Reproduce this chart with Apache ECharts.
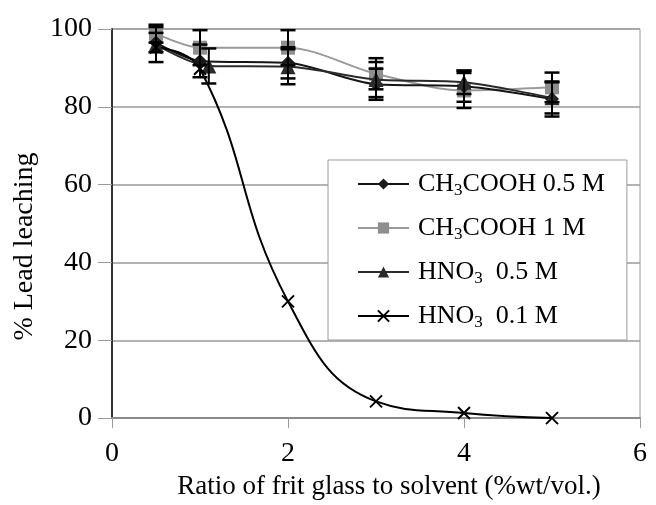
<!DOCTYPE html>
<html>
<head>
<meta charset="utf-8">
<script src="https://cdn.jsdelivr.net/npm/echarts@6/dist/echarts.min.js"></script>
<style>html,body{margin:0;padding:0;background:#fff;}#c{width:656px;height:505px;}</style>
</head>
<body>
<div id="c"></div>
<script>
// ---- data ----
const xValues = [0.5, 1, 2, 3, 4, 5];
const xValuesTriangle = [0.5, 1.1, 2, 3, 4, 5];
const ch3cooh05 = [96.5, 91.8, 91.3, 85.8, 85.3, 82.0];
const ch3cooh1 = [98.8, 95.2, 95.2, 88.5, 84.2, 85.0];
const hno305 = [96.0, 90.5, 90.3, 87.0, 86.3, 82.3];
const hno301 = [95.3, 89.8, 30.0, 4.3, 1.3, 0.0];
const errCh3cooh05 = [2.5, 4.2, 4.0, 4.0, 4.0, 4.5];
const errCh3cooh1 = [2.3, 4.5, 4.5, 4.0, 4.5, 3.8];
const errHno305 = [4.5, 4.5, 4.5, 4.5, 3.0, 4.0];
const xTicks = [0, 2, 4, 6];
const yTicks = [0, 20, 40, 60, 80, 100];
const seriesNames = ['CH3COOH 0.5 M', 'CH3COOH 1 M', 'HNO3 0.5 M', 'HNO3 0.1 M'];
const legendLabels = {
  'CH3COOH 0.5 M': '{n|CH}{s|3}{n|COOH 0.5 M}',
  'CH3COOH 1 M': '{n|CH}{s|3}{n|COOH 1 M}',
  'HNO3 0.5 M': '{n|HNO}{s|3}{n|  0.5 M}',
  'HNO3 0.1 M': '{n|HNO}{s|3}{n|  0.1 M}'
};

const FONT = "'Liberation Serif', 'Times New Roman', serif";
const chart = echarts.init(document.getElementById('c'), null, {renderer: 'canvas'});

function pairs(xs, ys) { return xs.map((x, i) => [x, ys[i]]); }

function errSeries(id, xs, ys, errs) {
  return {
    type: 'custom',
    name: id,
    z: 4,
    silent: true,
    data: xs.map((x, i) => [x, ys[i], errs[i]]),
    encode: {x: 0, y: 1},
    renderItem: function (params, api) {
      const x = api.value(0), y = api.value(1), e = api.value(2);
      const t = api.coord([x, y + e]);
      const b = api.coord([x, y - e]);
      const hw = 7.5;
      return {
        type: 'group',
        children: [
          {type: 'line', shape: {x1: t[0], y1: t[1], x2: b[0], y2: b[1]}, style: {stroke: '#000', lineWidth: 2}},
          {type: 'line', shape: {x1: t[0] - hw, y1: t[1], x2: t[0] + hw, y2: t[1]}, style: {stroke: '#000', lineWidth: 2.5}},
          {type: 'line', shape: {x1: b[0] - hw, y1: b[1], x2: b[0] + hw, y2: b[1]}, style: {stroke: '#000', lineWidth: 2.5}}
        ]
      };
    }
  };
}

const option = {
  animation: false,
  backgroundColor: '#fff',
  grid: {left: 112, right: 16, top: 29, bottom: 79, show: true, borderColor: '#9a9a9a', borderWidth: 1, backgroundColor: '#fff'},
  xAxis: {
    type: 'value', min: xTicks[0], max: xTicks[xTicks.length - 1], interval: 2,
    axisLine: {show: true, lineStyle: {color: '#8a8a8a', width: 2}},
    axisTick: {show: true, length: 10, lineStyle: {color: '#9a9a9a', width: 1}},
    axisLabel: {margin: 22, fontSize: 28, color: '#000', fontFamily: FONT},
    splitLine: {show: false},
    name: 'Ratio of frit glass to solvent (%wt/vol.)',
    nameLocation: 'middle', nameGap: 50,
    nameTextStyle: {fontSize: 27, color: '#000', fontFamily: FONT, padding: [0, 0, 0, 26]}
  },
  yAxis: {
    type: 'value', min: yTicks[0], max: yTicks[yTicks.length - 1], interval: 20,
    axisLine: {show: true, lineStyle: {color: '#333', width: 2}},
    axisTick: {show: true, length: 14, lineStyle: {color: '#9a9a9a', width: 1}},
    axisLabel: {margin: 20, fontSize: 28, color: '#000', fontFamily: FONT},
    splitLine: {show: true, lineStyle: {color: '#9a9a9a', width: 1.5}},
    name: '% Lead leaching',
    nameLocation: 'middle', nameGap: 68, nameRotate: 90,
    nameTextStyle: {fontSize: 28, color: '#000', fontFamily: FONT, padding: [0, 46, 0, 0]}
  },
  legend: {
    orient: 'vertical', left: 328, top: 160,
    padding: [11, 22, 9, 29], itemGap: 16, itemWidth: 51, itemHeight: 14,
    borderColor: '#9a9a9a', borderWidth: 1, backgroundColor: '#fff',
    data: seriesNames,
    formatter: function (name) { return legendLabels[name]; },
    textStyle: {
      color: '#000', fontFamily: FONT, fontSize: 26, padding: [0, 0, 0, 4],
      rich: {
        n: {fontSize: 26, lineHeight: 30, fontFamily: FONT, color: '#000'},
        s: {fontSize: 17, lineHeight: 12, verticalAlign: 'bottom', fontFamily: FONT, color: '#000'}
      }
    }
  },
  series: [
    {
      name: seriesNames[1], type: 'line', smooth: 0.3, data: pairs(xValues, ch3cooh1),
      symbol: 'rect', symbolSize: 14, z: 2,
      lineStyle: {color: '#9a9a9a', width: 2}, itemStyle: {color: '#8e8e8e'}
    },
    {
      name: seriesNames[0], type: 'line', smooth: 0.3, data: pairs(xValues, ch3cooh05),
      symbol: 'diamond', symbolSize: 14, z: 3,
      lineStyle: {color: '#151515', width: 2}, itemStyle: {color: '#1a1a1a'}
    },
    {
      name: seriesNames[2], type: 'line', smooth: 0.3, data: pairs(xValuesTriangle, hno305),
      symbol: 'triangle', symbolSize: 15, z: 3,
      lineStyle: {color: '#2a2a2a', width: 2}, itemStyle: {color: '#2b2b2b'}
    },
    {
      name: seriesNames[3], type: 'line', smooth: 0.45, data: pairs(xValues, hno301),
      symbol: 'path://M0,0L10,10M10,0L0,10', symbolSize: 12, z: 3,
      lineStyle: {color: '#000', width: 2}, itemStyle: {color: '#000', borderColor: '#000', borderWidth: 2}
    },
    errSeries('e1', xValues, ch3cooh1, errCh3cooh1),
    errSeries('e2', xValues, ch3cooh05, errCh3cooh05),
    errSeries('e3', xValuesTriangle, hno305, errHno305)
  ]
};
chart.setOption(option);
</script>
</body>
</html>
